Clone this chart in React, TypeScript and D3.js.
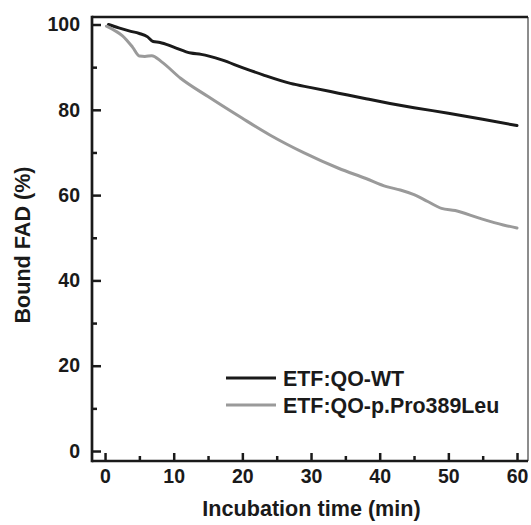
import React, { useEffect, useRef } from 'react';
import * as d3 from 'd3';

// incubation time (min) and bound FAD (%)
const wtTime = [0.5, 2, 3.5, 5, 6.2, 7, 8, 10, 12.5, 14, 17, 20, 23, 27, 30, 34, 38, 41.5, 45, 50, 55, 60];
const wtValues = [100, 99.2, 98.5, 97.9, 97.1, 96.0, 95.8, 94.7, 93.3, 93.0, 91.7, 89.9, 88.2, 86.2, 85.2, 83.9, 82.6, 81.5, 80.5, 79.2, 77.8, 76.3];

const mutTime = [0.2, 1.5, 2.5, 4, 5, 5.8, 6.8, 8.2, 11, 15, 20, 24, 29, 34, 38, 41, 43, 45, 47, 49, 51, 54.5, 58, 60];
const mutValues = [99.6, 98.5, 97.4, 94.7, 92.6, 92.5, 92.7, 91.3, 87.4, 83.1, 78.0, 74.1, 69.9, 66.3, 63.9, 62.0, 61.2, 60.1, 58.5, 56.9, 56.4, 54.6, 53.0, 52.3];

const xMajor = [0, 10, 20, 30, 40, 50, 60];
const xMinor = [5, 15, 25, 35, 45, 55];
const yMajor = [0, 20, 40, 60, 80, 100];
const yMinor = [10, 30, 50, 70, 90];

const seriesNames = ['ETF:QO-WT', 'ETF:QO-p.Pro389Leu'];
const seriesColors = ['#1a1a1a', '#9a9a9a'];

const W = 531;
const H = 525;
const margin = { top: 17, right: 3, bottom: 64, left: 92 };
const font = '"Liberation Sans", Arial, sans-serif';

const App = () => {
  const svgRef = useRef<SVGSVGElement>(null);

  useEffect(() => {
    const svg = d3.select(svgRef.current);
    svg.selectAll('*').remove();

    const x = d3.scaleLinear().domain([-1.9, 61.6]).range([margin.left, W - margin.right]);
    const y = d3.scaleLinear().domain([-2.34, 101.76]).range([H - margin.bottom, margin.top]);
    const left = margin.left;
    const right = W - margin.right;
    const top = margin.top;
    const bottom = H - margin.bottom;

    // minor ticks (no labels)
    svg.append('g')
      .attr('transform', `translate(0,${bottom})`)
      .call(d3.axisBottom(x).tickValues(xMinor).tickSize(-5).tickFormat(() => ''))
      .call((g) => g.select('.domain').remove())
      .selectAll('line').attr('stroke', '#1a1a1a').attr('stroke-width', 2.5);
    svg.append('g')
      .attr('transform', `translate(${left},0)`)
      .call(d3.axisLeft(y).tickValues(yMinor).tickSize(-5).tickFormat(() => ''))
      .call((g) => g.select('.domain').remove())
      .selectAll('line').attr('stroke', '#1a1a1a').attr('stroke-width', 2.5);

    // major ticks with labels
    const xAxis = svg.append('g')
      .attr('transform', `translate(0,${bottom})`)
      .call(d3.axisBottom(x).tickValues(xMajor).tickSize(-8).tickPadding(8).tickFormat(d3.format('d')));
    xAxis.select('.domain').remove();
    xAxis.selectAll('line').attr('stroke', '#1a1a1a').attr('stroke-width', 2.5);
    xAxis.selectAll('text')
      .attr('font-family', font).attr('font-weight', 'bold').attr('font-size', 19.5).attr('fill', '#1a1a1a');

    const yAxis = svg.append('g')
      .attr('transform', `translate(${left},0)`)
      .call(d3.axisLeft(y).tickValues(yMajor).tickSize(-9).tickPadding(12).tickFormat(d3.format('d')));
    yAxis.select('.domain').remove();
    yAxis.selectAll('line').attr('stroke', '#1a1a1a').attr('stroke-width', 2.5);
    yAxis.selectAll('text')
      .attr('font-family', font).attr('font-weight', 'bold').attr('font-size', 19.5).attr('fill', '#1a1a1a');

    // frame: heavy left/bottom/top, thin right
    svg.append('line').attr('x1', right).attr('x2', right).attr('y1', top).attr('y2', bottom)
      .attr('stroke', '#1a1a1a').attr('stroke-width', 1);
    svg.append('line').attr('x1', left).attr('x2', right).attr('y1', top).attr('y2', top)
      .attr('stroke', '#1a1a1a').attr('stroke-width', 2.7);
    svg.append('line').attr('x1', left).attr('x2', right).attr('y1', bottom).attr('y2', bottom)
      .attr('stroke', '#1a1a1a').attr('stroke-width', 2.7);
    svg.append('line').attr('x1', left).attr('x2', left).attr('y1', top - 1.3).attr('y2', bottom + 1.3)
      .attr('stroke', '#1a1a1a').attr('stroke-width', 2.7);

    // curves
    const line = d3.line<[number, number]>()
      .x((d) => x(d[0]))
      .y((d) => y(d[1]))
      .curve(d3.curveMonotoneX);

    const series = [
      wtTime.map((t, i) => [t, wtValues[i]] as [number, number]),
      mutTime.map((t, i) => [t, mutValues[i]] as [number, number]),
    ];
    series.forEach((pts, i) => {
      svg.append('path')
        .datum(pts)
        .attr('d', line)
        .attr('fill', 'none')
        .attr('stroke', seriesColors[i])
        .attr('stroke-width', 3)
        .attr('stroke-linejoin', 'round')
        .attr('stroke-linecap', 'round');
    });

    // legend
    seriesNames.forEach((name, i) => {
      const ly = 378 + i * 27;
      svg.append('line')
        .attr('x1', 226).attr('x2', 276).attr('y1', ly).attr('y2', ly)
        .attr('stroke', seriesColors[i]).attr('stroke-width', 3);
      svg.append('text')
        .attr('x', 283).attr('y', ly + 7.5)
        .attr('font-family', font).attr('font-weight', 'bold').attr('font-size', 21.4)
        .attr('fill', '#1a1a1a')
        .text(name);
    });

    // axis titles
    svg.append('text')
      .attr('x', (203 + 420) / 2).attr('y', 516)
      .attr('text-anchor', 'middle')
      .attr('font-family', font).attr('font-weight', 'bold').attr('font-size', 21.6)
      .attr('fill', '#1a1a1a')
      .text('Incubation time (min)');
    svg.append('text')
      .attr('transform', `translate(30,245) rotate(-90)`)
      .attr('text-anchor', 'middle')
      .attr('font-family', font).attr('font-weight', 'bold').attr('font-size', 21.6)
      .attr('fill', '#1a1a1a')
      .text('Bound FAD (%)');
  }, []);

  return (
    <div style={{ position: 'absolute', left: 0, top: 0, background: 'white' }}>
      <svg ref={svgRef} width={W} height={H} style={{ display: 'block' }} />
    </div>
  );
};

export default App;
